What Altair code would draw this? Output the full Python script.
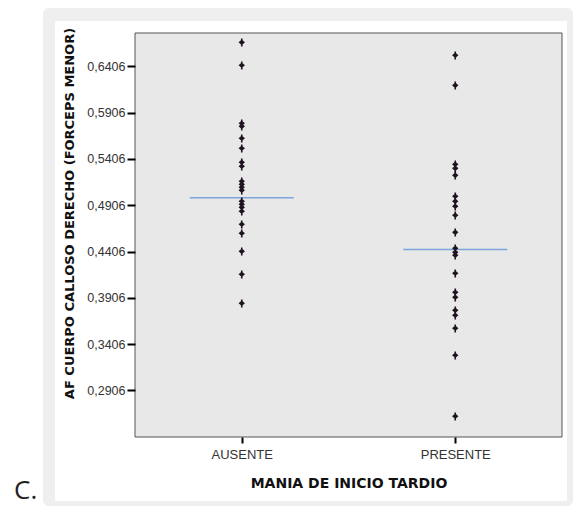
import altair as alt
import pandas as pd

# ---- data ----
categories = ["AUSENTE", "PRESENTE"]

ausente_values = [0.6662, 0.6414, 0.5788, 0.5755, 0.5626, 0.5518, 0.5367, 0.5324,
                  0.5162, 0.5129, 0.5097, 0.5065, 0.4946, 0.4914, 0.4881, 0.4838,
                  0.4698, 0.4601, 0.4406, 0.4158, 0.3845]
presente_values = [0.6522, 0.6198, 0.5345, 0.5302, 0.5226, 0.5000, 0.4946, 0.4892,
                   0.4795, 0.4611, 0.4439, 0.4395, 0.4363, 0.4169, 0.3964, 0.3910,
                   0.3770, 0.3716, 0.3575, 0.3284, 0.2626]
reference_line = [0.4986, 0.4428]

y_ticks = [0.2906, 0.3406, 0.3906, 0.4406, 0.4906, 0.5406, 0.5906, 0.6406]

x_title = "MANIA DE INICIO TARDIO"
y_title = "AF CUERPO CALLOSO DERECHO (FORCEPS MENOR)"
panel_label = "C."

points = pd.DataFrame({
    "grupo": [categories[0]] * len(ausente_values) + [categories[1]] * len(presente_values),
    "valor": ausente_values + presente_values,
})
lines = pd.DataFrame({"grupo": categories, "valor": reference_line})

W, H = 427, 404

x_enc = alt.X("grupo:N", sort=categories,
              scale=alt.Scale(type="point", padding=0.5, domain=categories),
              axis=alt.Axis(title=x_title, labelAngle=0, domain=False, grid=False,
                            tickColor="black", tickWidth=2, tickSize=6,
                            labelFont="Liberation Sans", labelFontSize=13,
                            labelColor="#333333", labelPadding=5,
                            titleFont="DejaVu Sans", titleFontSize=14,
                            titleFontWeight="bold", titleColor="#111111",
                            titlePadding=15, zindex=1))
y_enc = alt.Y("valor:Q",
              scale=alt.Scale(domain=[0.2404, 0.6765], nice=False, zero=False),
              axis=alt.Axis(title=y_title, values=y_ticks,
                            labelExpr="replace(format(datum.value, '.4f'), '.', ',')",
                            domain=False, grid=False,
                            tickColor="black", tickWidth=2, tickSize=8,
                            labelFont="Liberation Sans", labelFontSize=12.5,
                            labelColor="#333333", labelPadding=2,
                            titleFont="DejaVu Sans", titleFontSize=13,
                            titleFontWeight="bold", titleColor="#111111",
                            titlePadding=10, titleY=180, zindex=1))

base_frame = pd.DataFrame({"k": [0]})

gray = alt.Chart(base_frame).mark_rect(color="#efefef", cornerRadius=6).encode(
    x=alt.value(-92), x2=alt.value(438), y=alt.value(-25), y2=alt.value(473))
white = alt.Chart(base_frame).mark_rect(color="white").encode(
    x=alt.value(-80), x2=alt.value(432), y=alt.value(-12), y2=alt.value(468))
plotbg = alt.Chart(base_frame).mark_rect(fill="#e8e8e8", stroke="#555555", strokeWidth=1).encode(
    x=alt.value(0), x2=alt.value(W), y=alt.value(0), y2=alt.value(H))
label = alt.Chart(base_frame).mark_text(text=panel_label, font="Open Sans", fontSize=26,
                                        align="left", baseline="alphabetic",
                                        color="#222222").encode(
    x=alt.value(-121), y=alt.value(466))

marker_path = ("M0,-0.75L0.8,-0.05L0,0.65L-0.8,-0.05Z"
               "M-0.2,-1L0.2,-1L0.2,1L-0.2,1Z")

pts = alt.Chart(points).mark_point(shape=marker_path, filled=True, size=64,
                                   color="#1f1320", opacity=1).encode(x=x_enc, y=y_enc)
ref = alt.Chart(lines).mark_tick(color="#4f8ad6", thickness=1.5, size=104,
                                 orient="horizontal").encode(x=x_enc, y=y_enc)

chart = alt.layer(gray, white, label, plotbg, ref, pts).properties(
    width=W, height=H,
    autosize=alt.AutoSizeParams(type="none"),
    padding={"left": 127, "top": 25, "right": 11, "bottom": 69},
).configure_view(stroke=None)

chart.save("out.html", embed_options={"renderer": "svg", "actions": False})
